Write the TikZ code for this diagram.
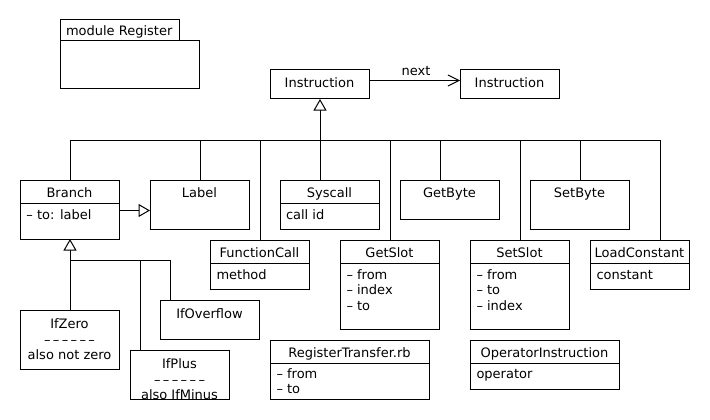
\documentclass[tikz,border=0pt]{standalone}
\usepackage{fontspec}
\setmainfont{DejaVu Sans}
\usetikzlibrary{arrows.meta}
\newcommand{\dashrow}{–\kern2.4pt–\kern2.4pt–\kern2.4pt–\kern2.4pt–\kern2.4pt–}
\begin{document}
\begin{tikzpicture}[x=1pt,y=-1pt,line width=1pt,
  box/.style={draw,inner sep=0pt,outer sep=0pt,anchor=north west,fill=white},
  txt/.style={inner sep=0pt,anchor=base,font=\fontsize{13}{16}\selectfont},
  ltxt/.style={txt,anchor=base west},
  inh/.style={-{Triangle[open,length=11.5pt,width=13pt,fill=white]}},
  assoc/.style={-{Straight Barb[length=11pt,width=11pt]}}]
\useasboundingbox[fill=white] (0,0) rectangle (710,420);

% bus and junction coordinates
\coordinate (b1) at (70,140);
\coordinate (b2) at (200,140);
\coordinate (b3) at (260,140);
\coordinate (b4) at (320,140);
\coordinate (b5) at (390,140);
\coordinate (b6) at (440,140);
\coordinate (b7) at (520,140);
\coordinate (b8) at (580,140);
\coordinate (b9) at (660,140);
\coordinate (bj) at (70,260);
\coordinate (bp) at (140,260);
\coordinate (bo) at (170,260);

% boxes
\node[box,minimum width=119pt,minimum height=21pt] (modtab) at (60,20) {};
\node[box,minimum width=139pt,minimum height=48pt] (modbody) at (60,41) {};
\node[box,minimum width=99.5pt,minimum height=29pt] (instr) at (270,70) {};
\node[box,minimum width=99pt,minimum height=29pt] (instr2) at (460,70) {};
\node[box,minimum width=99pt,minimum height=59pt] (branch) at (20,180) {};
\node[box,minimum width=99pt,minimum height=49pt] (label) at (150,180) {};
\node[box,minimum width=99pt,minimum height=49pt] (syscall) at (280,180) {};
\node[box,minimum width=99pt,minimum height=39pt] (getbyte) at (400,180) {};
\node[box,minimum width=99pt,minimum height=49pt] (setbyte) at (530,180) {};
\node[box,minimum width=99pt,minimum height=49pt] (funcall) at (210,240) {};
\node[box,minimum width=99pt,minimum height=89pt] (getslot) at (340,240) {};
\node[box,minimum width=99pt,minimum height=89pt] (setslot) at (470,240) {};
\node[box,minimum width=99pt,minimum height=49pt] (loadconst) at (590,240) {};
\node[box,minimum width=99pt,minimum height=59pt] (ifzero) at (20,310) {};
\node[box,minimum width=99pt,minimum height=39pt] (ifoverflow) at (160,300) {};
\node[box,minimum width=99pt,minimum height=49pt] (ifplus) at (130,350) {};
\node[box,minimum width=159pt,minimum height=59pt] (regtrans) at (270,340) {};
\node[box,minimum width=149pt,minimum height=49pt] (opinstr) at (470,340) {};

% compartment dividers
\draw (branch.west |- 0,203) -- (branch.east |- 0,203);
\draw (syscall.west |- 0,203) -- (syscall.east |- 0,203);
\draw (funcall.west |- 0,263) -- (funcall.east |- 0,263);
\draw (getslot.west |- 0,263) -- (getslot.east |- 0,263);
\draw (setslot.west |- 0,263) -- (setslot.east |- 0,263);
\draw (loadconst.west |- 0,263) -- (loadconst.east |- 0,263);
\draw (regtrans.west |- 0,363) -- (regtrans.east |- 0,363);
\draw (opinstr.west |- 0,363) -- (opinstr.east |- 0,363);

% connectors
\draw[assoc] ([yshift=4pt]instr.east) -- ([yshift=4pt]instr2.west);
\draw (b1) -- (b9);
\draw[inh] (b4) -- (b4 |- instr.south);
\draw (b1) -- (b1 |- branch.north);
\draw (b2) -- (b2 |- label.north);
\draw (b3) -- (b3 |- funcall.north);
\draw (b4) -- (b4 |- syscall.north);
\draw (b5) -- (b5 |- getslot.north);
\draw (b6) -- (b6 |- getbyte.north);
\draw (b7) -- (b7 |- setslot.north);
\draw (b8) -- (b8 |- setbyte.north);
\draw (b9) -- (b9 |- loadconst.north);
\draw[inh] ([yshift=-1pt]branch.east) -- ([yshift=-1pt]branch.east -| label.west);
\draw[inh] (bj) -- (bj |- branch.south);
\draw (bj) -- (bj |- ifzero.north);
\draw (bj) -- (bo) -- (bo |- ifoverflow.north);
\draw (bp) -- (bp |- ifplus.north);

% texts
\node[ltxt] (tmod) at (65.5,35.5) {module Register};
\node[txt] (tinstr) at (319.5,87.5) {Instruction};
\node[txt] (tinstr2) at (509.5,87.5) {Instruction};
\node[txt] (tnext) at (416,75.5) {next};
\node[txt] (tbranch) at (69.5,197.5) {Branch};
\node[txt] (tlabel) at (199.5,197.5) {Label};
\node[txt] (tsys) at (329.5,197.5) {Syscall};
\node[txt] (tgetb) at (449.5,197.5) {GetByte};
\node[txt] (tsetb) at (579.5,197.5) {SetByte};
\node[txt] (tfun) at (259.5,257.5) {FunctionCall};
\node[txt] (tgets) at (389.5,257.5) {GetSlot};
\node[txt] (tsets) at (519.5,257.5) {SetSlot};
\node[txt] (tload) at (639.5,257.5) {LoadConstant};
\node[txt] (treg) at (349.5,357.5) {RegisterTransfer.rb};
\node[txt] (top) at (544.5,357.5) {OperatorInstruction};
\node[txt] (tovf) at (209.5,318) {IfOverflow};
\node[txt] (tzero) at (69.5,328) {IfZero};
\node[txt] (tzd) at (69.5,344) {\dashrow};
\node[txt] (tzero2) at (69.5,359) {also not zero};
\node[txt] (tplus) at (179.5,368) {IfPlus};
\node[txt] (tpd) at (179.5,384) {\dashrow};
\node[txt] (tplus2) at (179.5,399) {also IfMinus};

\node[ltxt] (abr) at (26,219) {– to: label};
\node[ltxt] (asys) at (285.5,219) {call id};
\node[ltxt] (afun) at (216,279) {method};
\node[ltxt] (ags1) at (346,279) {– from};
\node[ltxt] (ags2) at (346,294.5) {– index};
\node[ltxt] (ags3) at (346,310) {– to};
\node[ltxt] (ass1) at (476,279) {– from};
\node[ltxt] (ass2) at (476,294.5) {– to};
\node[ltxt] (ass3) at (476,310) {– index};
\node[ltxt] (alc) at (596,279) {constant};
\node[ltxt] (art1) at (276,378.5) {– from};
\node[ltxt] (art2) at (276,393.5) {– to};
\node[ltxt] (aop) at (476,378.5) {operator};
\end{tikzpicture}
\end{document}
